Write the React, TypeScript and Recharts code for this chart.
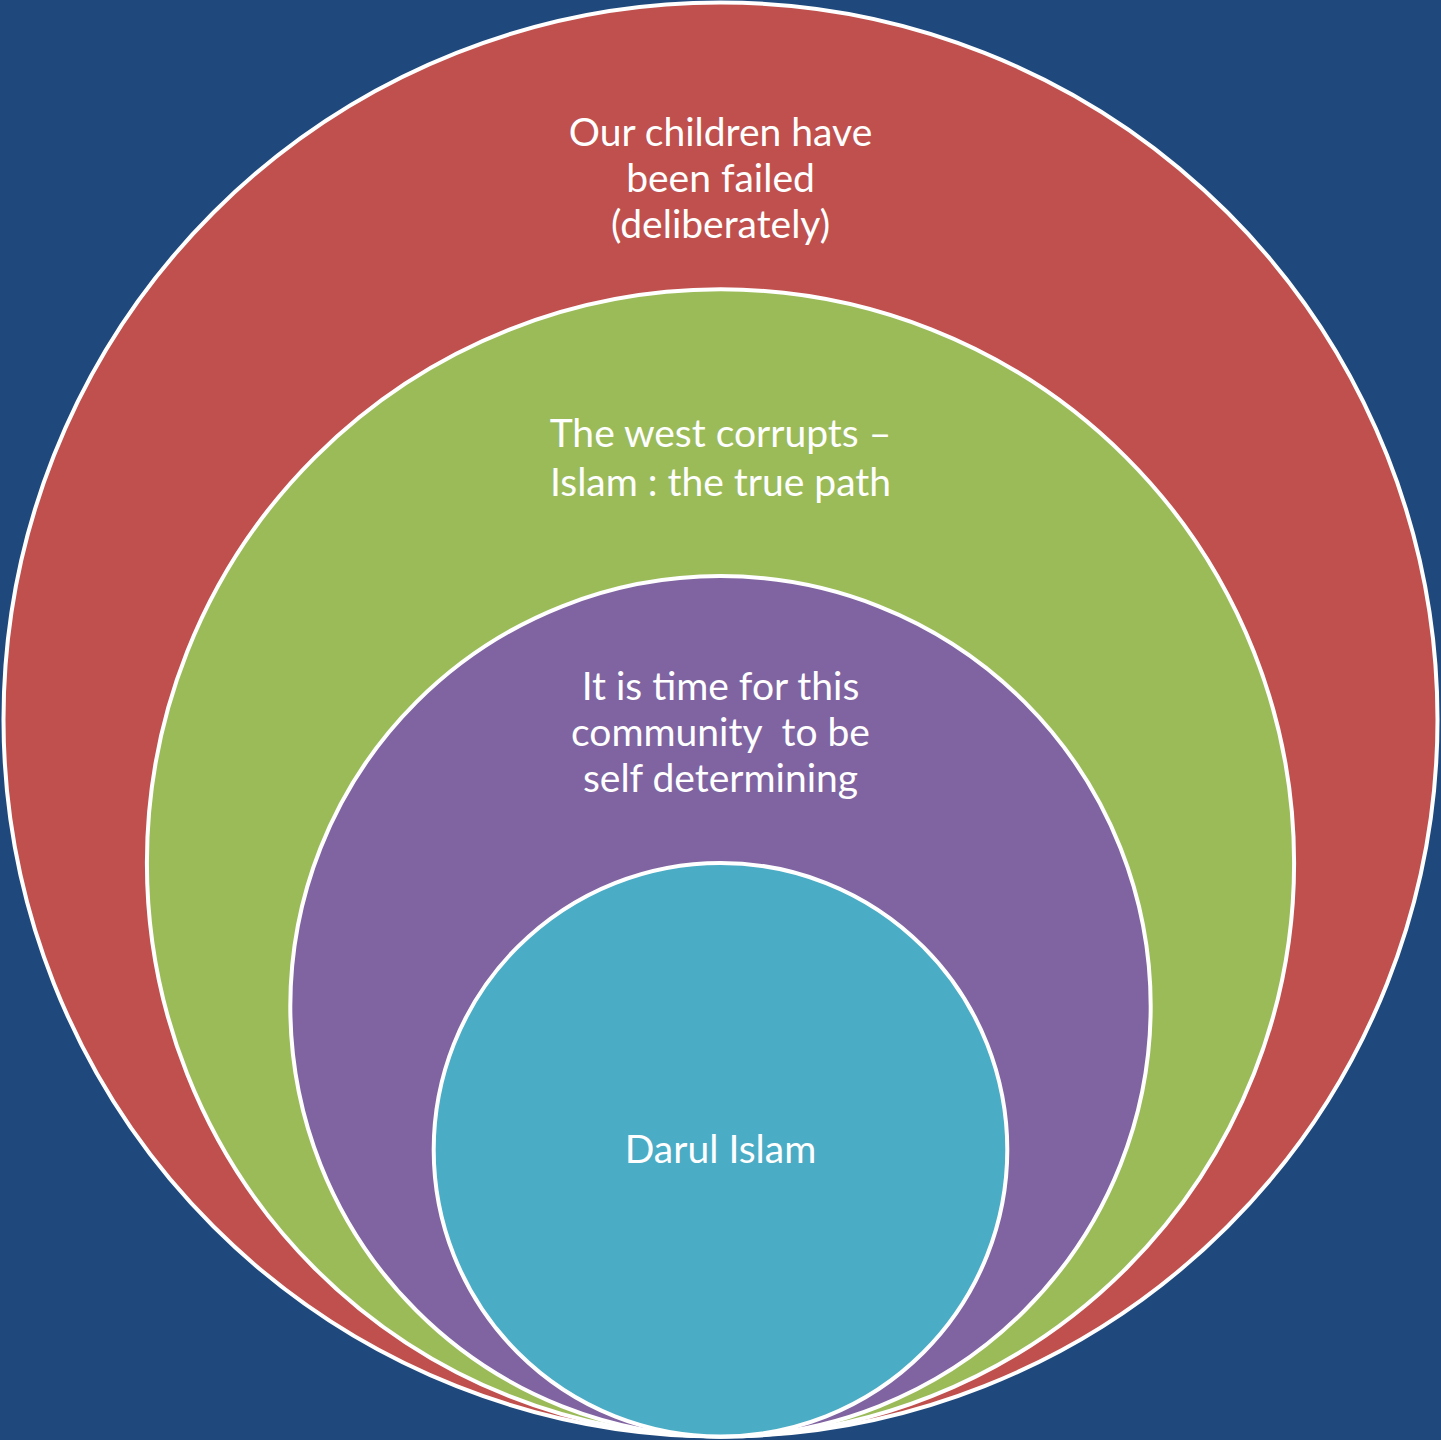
import React from 'react';
import { ScatterChart, Scatter, XAxis, YAxis } from 'recharts';

// ---- data ----
const CIRCLE_NAMES = ['Failed', 'West', 'Community', 'Darul'];
const CIRCLE_LEVELS = [5, 4, 3, 2]; // radius of each circle, in levels
const CIRCLE_LABELS: string[][] = [
  ['Our children have', 'been failed', '(deliberately)'],
  ['The west corrupts –', 'Islam : the true path'],
  ['It is time for this', 'community  to be', 'self determining'],
  ['Darul Islam'],
];

// ---- styles / layout ----
const WIDTH = 1441;
const HEIGHT = 1440;
const UNIT = 143.4; // px per level
const CENTER_X = 720.5;
const BASE_Y = 1436.5;
const COLORS = ['#C0504D', '#9BBB59', '#8064A2', '#4BACC6'];
const BG = '#1F497D';
const LABEL_OFFSETS = [143.5, 158, 124, 300]; // first baseline below circle top
const LINE_GAPS = [46, 49, 46, 46];
const FONT = 'Lato, "Open Sans", sans-serif';
const FONT_SIZE = 39;

const data = CIRCLE_NAMES.map((name, i) => ({
  name,
  x: 0,
  y: CIRCLE_LEVELS[i],
  level: CIRCLE_LEVELS[i],
  lines: CIRCLE_LABELS[i],
  idx: i,
}));

const CircleShape = (props: any) => {
  const { cx, cy, payload } = props;
  const r = payload.level * UNIT;
  const top = cy - r;
  const i = payload.idx;
  return (
    <g>
      <circle cx={cx} cy={cy} r={r} fill={COLORS[i]} stroke="#FFFFFF" strokeWidth={4} />
      {payload.lines.map((line: string, k: number) => (
        <text
          key={k}
          x={cx}
          y={top + LABEL_OFFSETS[i] + k * LINE_GAPS[i]}
          textAnchor="middle"
          fill="#FFFFFF"
          fontFamily={FONT}
          fontSize={FONT_SIZE}
          style={{ whiteSpace: 'pre' }}
        >
          {line}
        </text>
      ))}
    </g>
  );
};

export default function App() {
  const xHalf = CENTER_X / UNIT;
  const yTop = BASE_Y / UNIT;
  const yBottom = -(HEIGHT - BASE_Y) / UNIT;
  return (
    <div style={{ width: WIDTH, height: HEIGHT, background: BG, overflow: 'hidden' }}>
      <style>{'body{margin:0;}'}</style>
      <ScatterChart width={WIDTH} height={HEIGHT} margin={{ top: 0, right: 0, bottom: 0, left: 0 }}>
        <XAxis type="number" dataKey="x" domain={[-xHalf, (WIDTH - CENTER_X) / UNIT]} hide allowDataOverflow />
        <YAxis type="number" dataKey="y" domain={[yBottom, yTop]} hide allowDataOverflow />
        <Scatter data={data} shape={CircleShape} isAnimationActive={false} />
      </ScatterChart>
    </div>
  );
}
